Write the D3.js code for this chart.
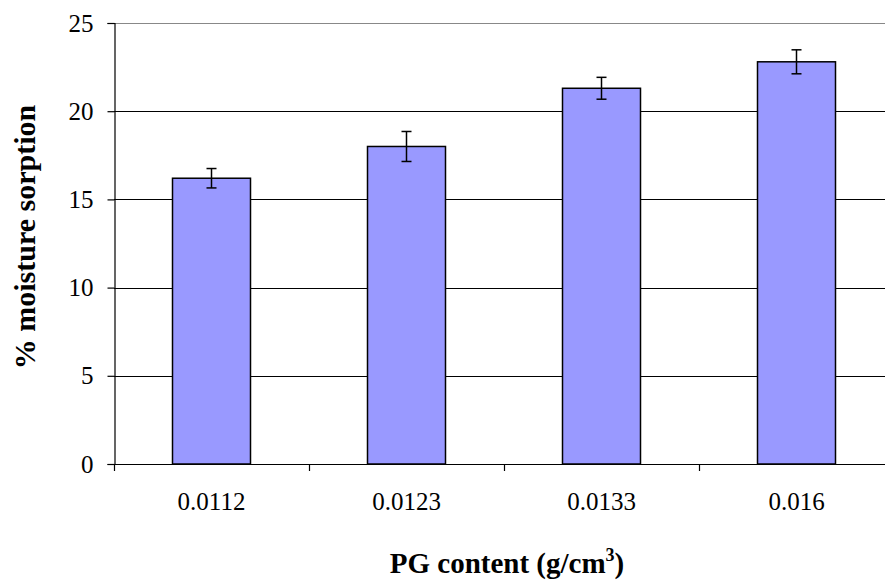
<!DOCTYPE html>
<html>
<head>
<meta charset="utf-8">
<script src="https://cdn.jsdelivr.net/npm/d3@7"></script>
<style>
  html, body { margin: 0; padding: 0; background: #fff; }
  svg { display: block; }
  text { font-family: "Liberation Serif", "Times New Roman", serif; fill: #000; }
</style>
</head>
<body>
<svg id="chart" width="885" height="588"></svg>
<script>
// PG content categories and mean moisture sorption with error
const categories = ["0.0112", "0.0123", "0.0133", "0.016"];
const sorption = [16.2, 18.0, 21.3, 22.8];
const sorptionErr = [0.55, 0.85, 0.62, 0.68];
const yTicks = [0, 5, 10, 15, 20, 25];

const svg = d3.select("#chart");
const plot = { left: 114, right: 894, top: 23, bottom: 464 };

const x = d3.scaleBand()
  .domain(categories)
  .range([plot.left, plot.right])
  .paddingInner(0.6)
  .paddingOuter(0.3);

const xEdge = d3.scaleLinear()
  .domain([0, categories.length])
  .range([plot.left, plot.right]);

const y = d3.scaleLinear()
  .domain([0, 25])
  .range([plot.bottom, plot.top]);

// plot area border (top edge visible)
svg.append("line")
  .attr("x1", plot.left).attr("x2", plot.right)
  .attr("y1", plot.top + 0.5).attr("y2", plot.top + 0.5)
  .attr("stroke", "#888").attr("stroke-width", 1.2);

// horizontal gridlines
svg.append("g")
  .selectAll("line")
  .data(yTicks.filter(t => t > 0 && t < 25))
  .join("line")
  .attr("x1", plot.left).attr("x2", plot.right)
  .attr("y1", d => Math.round(y(d)) + 0.5)
  .attr("y2", d => Math.round(y(d)) + 0.5)
  .attr("stroke", "#000").attr("stroke-width", 1);

// bars
svg.append("g")
  .selectAll("rect")
  .data(categories)
  .join("rect")
  .attr("x", d => x(d))
  .attr("width", x.bandwidth())
  .attr("y", (d, i) => y(sorption[i]))
  .attr("height", (d, i) => y(0) - y(sorption[i]))
  .attr("fill", "#9999FF")
  .attr("stroke", "#000")
  .attr("stroke-width", 1.5);

// error bars
const eb = svg.append("g").attr("stroke", "#000").attr("stroke-width", 1.5);
categories.forEach((c, i) => {
  const cx = x(c) + x.bandwidth() / 2;
  const yHi = y(sorption[i] + sorptionErr[i]);
  const yLo = y(sorption[i] - sorptionErr[i]);
  eb.append("line").attr("x1", cx).attr("x2", cx).attr("y1", yHi).attr("y2", yLo);
  eb.append("line").attr("x1", cx - 5).attr("x2", cx + 5).attr("y1", yHi).attr("y2", yHi);
  eb.append("line").attr("x1", cx - 5).attr("x2", cx + 5).attr("y1", yLo).attr("y2", yLo);
});

// y axis
const yAxis = svg.append("g")
  .attr("transform", `translate(${plot.left + 0.5},0)`)
  .call(d3.axisLeft(y).tickValues(yTicks).tickSize(7).tickPadding(14).tickFormat(d3.format("d")));
yAxis.select(".domain").attr("stroke", "#000").attr("stroke-width", 1.2);
yAxis.selectAll(".tick line").attr("stroke", "#000").attr("stroke-width", 1.2);
yAxis.selectAll(".tick text")
  .attr("font-size", 25)
  .attr("font-family", "Liberation Serif, serif")
  .attr("fill", "#000");

// x axis baseline and category separators
svg.append("line")
  .attr("x1", plot.left).attr("x2", plot.right)
  .attr("y1", plot.bottom + 0.5).attr("y2", plot.bottom + 0.5)
  .attr("stroke", "#000").attr("stroke-width", 1.2);
svg.append("g")
  .selectAll("line")
  .data(d3.range(categories.length + 1))
  .join("line")
  .attr("x1", d => Math.round(xEdge(d)) + 0.5)
  .attr("x2", d => Math.round(xEdge(d)) + 0.5)
  .attr("y1", plot.bottom).attr("y2", plot.bottom + 7)
  .attr("stroke", "#000").attr("stroke-width", 1.2);

// category labels
svg.append("g")
  .selectAll("text")
  .data(categories)
  .join("text")
  .attr("x", d => x(d) + x.bandwidth() / 2)
  .attr("y", 510)
  .attr("text-anchor", "middle")
  .attr("font-size", 25)
  .text(d => d);

// axis titles
const xt = svg.append("text")
  .attr("x", 507)
  .attr("y", 573)
  .attr("text-anchor", "middle")
  .attr("font-size", 29)
  .attr("font-weight", "bold");
xt.append("tspan").text("PG content (g/cm");
xt.append("tspan").attr("font-size", 18).attr("dy", -12).text("3");
xt.append("tspan").attr("dy", 12).text(")");

svg.append("text")
  .attr("transform", "translate(35,237) rotate(-90)")
  .attr("text-anchor", "middle")
  .attr("font-size", 30)
  .attr("font-weight", "bold")
  .text("% moisture sorption");
</script>
</body>
</html>
